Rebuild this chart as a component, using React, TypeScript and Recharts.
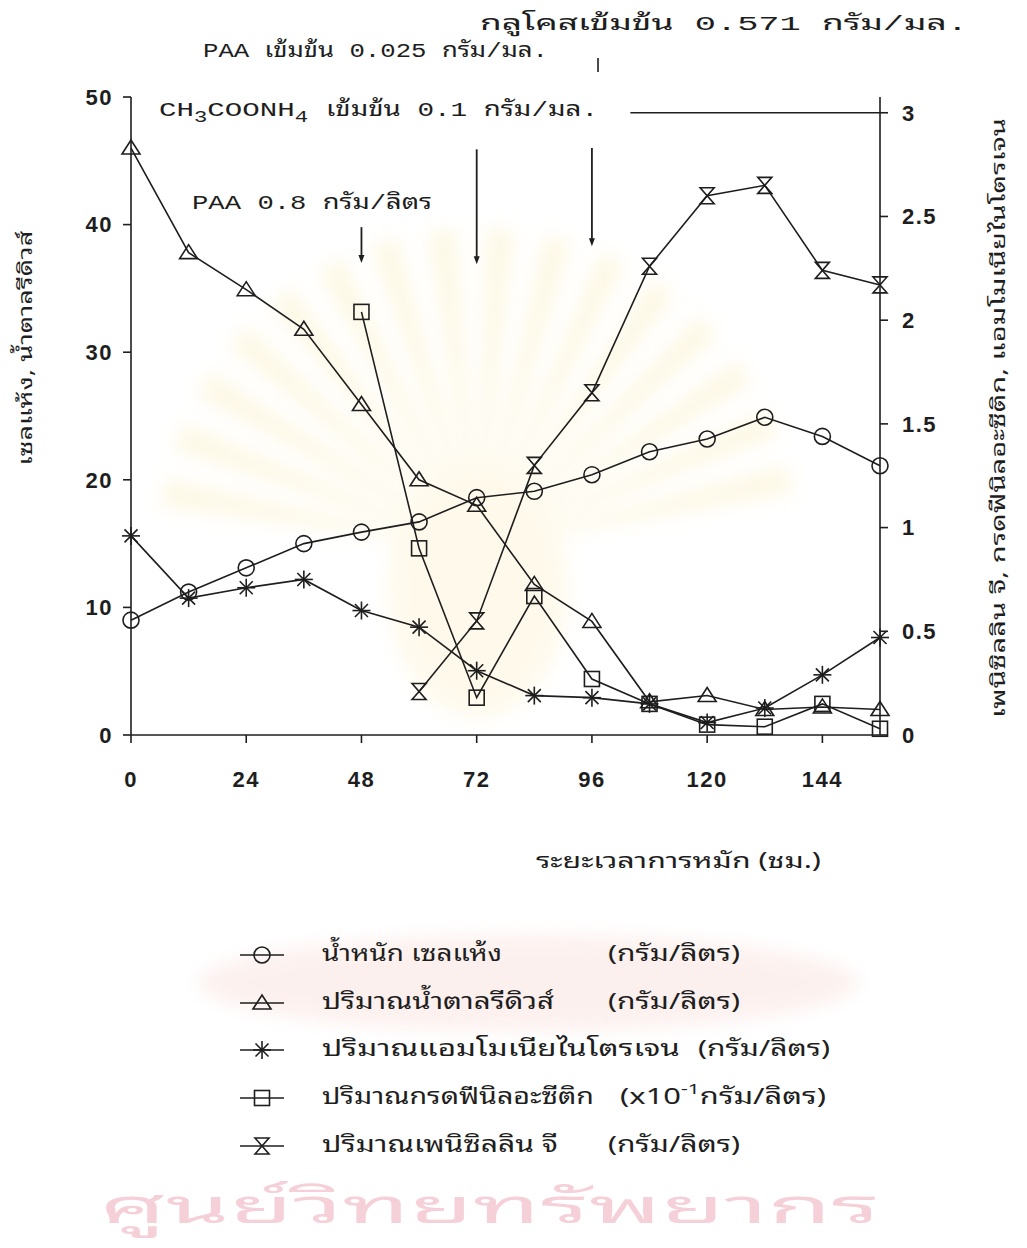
import React from 'react';
import { LineChart, Line, XAxis, YAxis, ReferenceLine } from 'recharts';

// Fermentation time course (hours)
const hours = [0, 12, 24, 36, 48, 60, 72, 84, 96, 108, 120, 132, 144, 156];

// Left axis series (g/L)
const dryCellWeight = [9.0, 11.2, 13.1, 15.0, 15.9, 16.7, 18.6, 19.1, 20.4, 22.2, 23.2, 24.9, 23.4, 21.1];
const reducingSugar = [46.0, 37.8, 34.9, 31.8, 25.9, 20.0, 18.0, 11.8, 8.9, 2.6, 3.1, 2.0, 2.2, 2.0];

// Right axis series
const ammoniaNitrogen = [0.96, 0.66, 0.71, 0.75, 0.6, 0.52, 0.31, 0.19, 0.18, 0.15, 0.06, 0.13, 0.29, 0.47];
const phenylaceticAcid = [null, null, null, null, 2.04, 0.9, 0.18, 0.67, 0.27, 0.15, 0.05, 0.04, 0.15, 0.03];
const penicillinG = [null, null, null, null, null, 0.21, 0.55, 1.3, 1.65, 2.26, 2.6, 2.65, 2.24, 2.17];

// Axis ticks
const hourTicks = [0, 24, 48, 72, 96, 120, 144];
const leftTicks = [0, 10, 20, 30, 40, 50];
const rightTicks = [0, 0.5, 1, 1.5, 2, 2.5, 3];

// Feeding events: time, arrow top and bottom (left-axis units)
const feedArrows = [
  { hour: 48, from: 39.8, to: 37.0 },
  { hour: 72, from: 45.9, to: 36.9 },
  { hour: 96, from: 46.0, to: 38.3 },
];

const data = hours.map((h, i) => ({
  hour: h,
  cell: dryCellWeight[i],
  sugar: reducingSugar[i],
  ammonia: ammoniaNitrogen[i],
  paa: phenylaceticAcid[i],
  pen: penicillinG[i],
}));

const INK = '#1e1e1e';
const SW = 1.6;
const THAI = "'Noto Sans Thai Looped', 'Noto Sans Thai', 'Noto Sans', 'DejaVu Sans', sans-serif";
const MONO = "'Liberation Mono', 'DejaVu Sans Mono', " + THAI;
const NUM = "'Liberation Sans', Arial, sans-serif";
const FIT = 'spacingAndGlyphs';

type P = { cx: number; cy: number };

const CircleMark = ({ cx, cy }: P) => (
  <circle cx={cx} cy={cy} r={8} fill="none" stroke={INK} strokeWidth={SW} />
);
const TriangleMark = ({ cx, cy }: P) => (
  <path d={`M${cx - 9},${cy + 6} L${cx},${cy - 8} L${cx + 9},${cy + 6} Z`} fill="none" stroke={INK} strokeWidth={SW} />
);
const StarMark = ({ cx, cy }: P) => (
  <g stroke={INK} strokeWidth={SW}>
    <line x1={cx - 9} y1={cy} x2={cx + 9} y2={cy} />
    <line x1={cx} y1={cy - 9} x2={cx} y2={cy + 9} />
    <line x1={cx - 6.5} y1={cy - 6.5} x2={cx + 6.5} y2={cy + 6.5} />
    <line x1={cx - 6.5} y1={cy + 6.5} x2={cx + 6.5} y2={cy - 6.5} />
  </g>
);
const SquareMark = ({ cx, cy }: P) => (
  <rect x={cx - 7.5} y={cy - 7.5} width={15} height={15} fill="none" stroke={INK} strokeWidth={SW} />
);
const HourglassMark = ({ cx, cy }: P) => (
  <path d={`M${cx - 7},${cy - 8} H${cx + 7} L${cx - 7},${cy + 8} H${cx + 7} Z`} fill="none" stroke={INK} strokeWidth={SW} />
);

const makeDot = (Shape: (p: P) => React.ReactElement) => (props: any) => {
  const { cx, cy, index, value } = props;
  if (value == null || cx == null || cy == null || Number.isNaN(cy)) return <g key={`n${index}`} />;
  return (
    <g key={`d${index}`}>
      <Shape cx={cx} cy={cy} />
    </g>
  );
};

const ArrowShape = (props: any) => {
  const { x1, y1, x2, y2 } = props;
  return (
    <g>
      <line x1={x1} y1={y1} x2={x2} y2={y2 - 4} stroke={INK} strokeWidth={1.8} />
      <path d={`M${x2 - 3},${y2 - 8} L${x2 + 3},${y2 - 8} L${x2},${y2} Z`} fill={INK} />
    </g>
  );
};

const legendRows = [
  { Mark: CircleMark, name: 'น้ำหนัก เซลแห้ง', nameW: 180, unitX: 600, unitW: 132, unit: '(กรัม/ลิตร)' },
  { Mark: TriangleMark, name: 'ปริมาณน้ำตาลรีดิวส์', nameW: 232, unitX: 600, unitW: 132, unit: '(กรัม/ลิตร)' },
  { Mark: StarMark, name: 'ปริมาณแอมโมเนียไนโตรเจน', nameW: 358, unitX: 690, unitW: 132, unit: '(กรัม/ลิตร)' },
  { Mark: SquareMark, name: 'ปริมาณกรดฟีนิลอะซีติก', nameW: 272, unitX: 612, unitW: 206, unit: 'x10' },
  { Mark: HourglassMark, name: 'ปริมาณเพนิซิลลิน จี', nameW: 236, unitX: 600, unitW: 132, unit: '(กรัม/ลิตร)' },
];
const legendY = [947, 995, 1042, 1090, 1138];

const TICK = { fill: INK, fontSize: 22, fontWeight: 700, fontFamily: NUM, letterSpacing: 1.5 };

export default function App() {
  const W = 1011;
  const H = 1232;
  const rays = Array.from({ length: 16 }, (_, i) => i);
  return (
    <div style={{ position: 'relative', width: W, height: H, background: '#fff' }}>
      {/* faint background seal of the scanned page */}
      <svg width={W} height={H} style={{ position: 'absolute', left: 0, top: 0 }}>
        <defs>
          <filter id="soft" x="-20%" y="-20%" width="140%" height="140%">
            <feGaussianBlur stdDeviation="9" />
          </filter>
        </defs>
        <g filter="url(#soft)" opacity={0.4}>
          {rays.map((i) => {
            const a = (-170 + i * 10.5) * (Math.PI / 180);
            const cx = 470;
            const cy = 540;
            const r0 = 70;
            const r1 = 320;
            const w = 0.045;
            return (
              <path
                key={i}
                d={`M${cx + r0 * Math.cos(a - w)},${cy + r0 * Math.sin(a - w)} L${cx + r1 * Math.cos(a - w)},${cy + r1 * Math.sin(a - w)} L${cx + r1 * Math.cos(a + w)},${cy + r1 * Math.sin(a + w)} L${cx + r0 * Math.cos(a + w)},${cy + r0 * Math.sin(a + w)} Z`}
                fill="#fbeec0"
              />
            );
          })}
          <ellipse cx={470} cy={580} rx={90} ry={130} fill="#fff2d0" />
          <ellipse cx={520} cy={975} rx={330} ry={48} fill="#f8dcd6" />
        </g>
        <text x={92} y={1215} fontFamily={THAI} fontSize={48} fill="#f6d0d8" textLength={780} lengthAdjust={FIT}>
          ศูนย์วิทยทรัพยากร
        </text>
      </svg>
      <div style={{ position: 'absolute', left: 0, top: 0 }}>
        <LineChart
          width={W}
          height={H}
          data={data}
          margin={{ top: 89, right: 79, bottom: 465, left: 63 }}
        >
          <XAxis
            dataKey="hour"
            type="number"
            domain={[0, 156]}
            ticks={hourTicks}
            height={40}
            tickSize={8}
            tickMargin={28}
            axisLine={{ stroke: INK, strokeWidth: 1.6 }}
            tickLine={{ stroke: INK, strokeWidth: 1.6 }}
            tick={TICK}
          />
          <YAxis
            yAxisId="left"
            domain={[0, 50]}
            ticks={leftTicks}
            width={60}
            tickSize={8}
            tickMargin={10}
            axisLine={{ stroke: INK, strokeWidth: 1.6 }}
            tickLine={{ stroke: INK, strokeWidth: 1.6 }}
            tick={TICK}
          />
          <YAxis
            yAxisId="right"
            orientation="right"
            domain={[0, 3.076]}
            ticks={rightTicks}
            width={60}
            tickSize={8}
            tickMargin={14}
            axisLine={{ stroke: INK, strokeWidth: 1.6 }}
            tickLine={{ stroke: INK, strokeWidth: 1.6 }}
            tick={TICK}
          />
          <ReferenceLine
            yAxisId="right"
            segment={[{ x: 104, y: 3 }, { x: 156, y: 3 }]}
            stroke={INK}
            strokeWidth={1.6}
          />
          {feedArrows.map((a) => (
            <ReferenceLine
              key={a.hour}
              yAxisId="left"
              segment={[{ x: a.hour, y: a.from }, { x: a.hour, y: a.to }]}
              shape={ArrowShape}
            />
          ))}
          <Line yAxisId="left" dataKey="cell" stroke={INK} strokeWidth={SW} dot={makeDot(CircleMark)} isAnimationActive={false} />
          <Line yAxisId="left" dataKey="sugar" stroke={INK} strokeWidth={SW} dot={makeDot(TriangleMark)} isAnimationActive={false} />
          <Line yAxisId="right" dataKey="ammonia" stroke={INK} strokeWidth={SW} dot={makeDot(StarMark)} isAnimationActive={false} />
          <Line yAxisId="right" dataKey="paa" stroke={INK} strokeWidth={SW} dot={makeDot(SquareMark)} isAnimationActive={false} />
          <Line yAxisId="right" dataKey="pen" stroke={INK} strokeWidth={SW} dot={makeDot(HourglassMark)} isAnimationActive={false} />
        </LineChart>
      </div>
      <svg width={W} height={H} style={{ position: 'absolute', left: 0, top: 0, pointerEvents: 'none' }}>
        {/* feeding annotations */}
        <text x={472} y={22} fontFamily={MONO} fontSize={21} fill={INK} textLength={488} lengthAdjust={FIT}>
          กลูโคสเข้มข้น 0.571 กรัม/มล.
        </text>
        <line x1={590} y1={50} x2={590} y2={64} stroke={INK} strokeWidth={1.6} />
        <text x={195} y={49} fontFamily={MONO} fontSize={21} fill={INK} textLength={345} lengthAdjust={FIT}>
          PAA เข้มข้น 0.025 กรัม/มล.
        </text>
        <text x={151} y={108} fontFamily={MONO} fontSize={21} fill={INK} textLength={149} lengthAdjust={FIT}>
          CH<tspan dy={6} fontSize={16}>3</tspan>
          <tspan dy={-6}>COONH</tspan>
          <tspan dy={6} fontSize={16}>4</tspan>
        </text>
        <text x={318} y={108} fontFamily={MONO} fontSize={21} fill={INK} textLength={272} lengthAdjust={FIT}>
          เข้มข้น 0.1 กรัม/มล.
        </text>
        <text x={184} y={201} fontFamily={MONO} fontSize={21} fill={INK} textLength={240} lengthAdjust={FIT}>
          PAA 0.8 กรัม/ลิตร
        </text>

        {/* axis titles */}
        <text x={19} y={340} transform="rotate(-90 19 340)" textAnchor="middle" dominantBaseline="middle" fontFamily={THAI} fontSize={20} fill={INK} textLength={235} lengthAdjust={FIT}>
          เซลแห้ง, น้ำตาลรีดิวส์
        </text>
        <text x={992} y={410} transform="rotate(-90 992 410)" textAnchor="middle" dominantBaseline="middle" fontFamily={THAI} fontSize={20} fill={INK} textLength={600} lengthAdjust={FIT}>
          เพนิซิลลิน จี, กรดฟีนิลอะซีติก, แอมโมเนียไนโตรเจน
        </text>
        <text x={528} y={860} fontFamily={THAI} fontSize={21} fill={INK} textLength={285} lengthAdjust={FIT}>
          ระยะเวลาการหมัก (ชม.)
        </text>

        {/* legend */}
        {legendRows.map((r, i) => {
          const y = legendY[i];
          const M = r.Mark;
          return (
            <g key={r.name}>
              <line x1={232} y1={y} x2={276} y2={y} stroke={INK} strokeWidth={SW} />
              <M cx={254} cy={y} />
              <text x={314} y={y} dominantBaseline="middle" fontFamily={THAI} fontSize={22} fill={INK} textLength={r.nameW} lengthAdjust={FIT}>
                {r.name}
              </text>
              {r.unit === 'x10' ? (
                <text x={r.unitX} y={y} dominantBaseline="middle" fontFamily={THAI} fontSize={22} fill={INK} textLength={r.unitW} lengthAdjust={FIT}>
                  (x10<tspan dy={-8} fontSize={15}>-1</tspan>
                  <tspan dy={8}>กรัม/ลิตร)</tspan>
                </text>
              ) : (
                <text x={r.unitX} y={y} dominantBaseline="middle" fontFamily={THAI} fontSize={22} fill={INK} textLength={r.unitW} lengthAdjust={FIT}>
                  {r.unit}
                </text>
              )}
            </g>
          );
        })}
      </svg>
    </div>
  );
}
